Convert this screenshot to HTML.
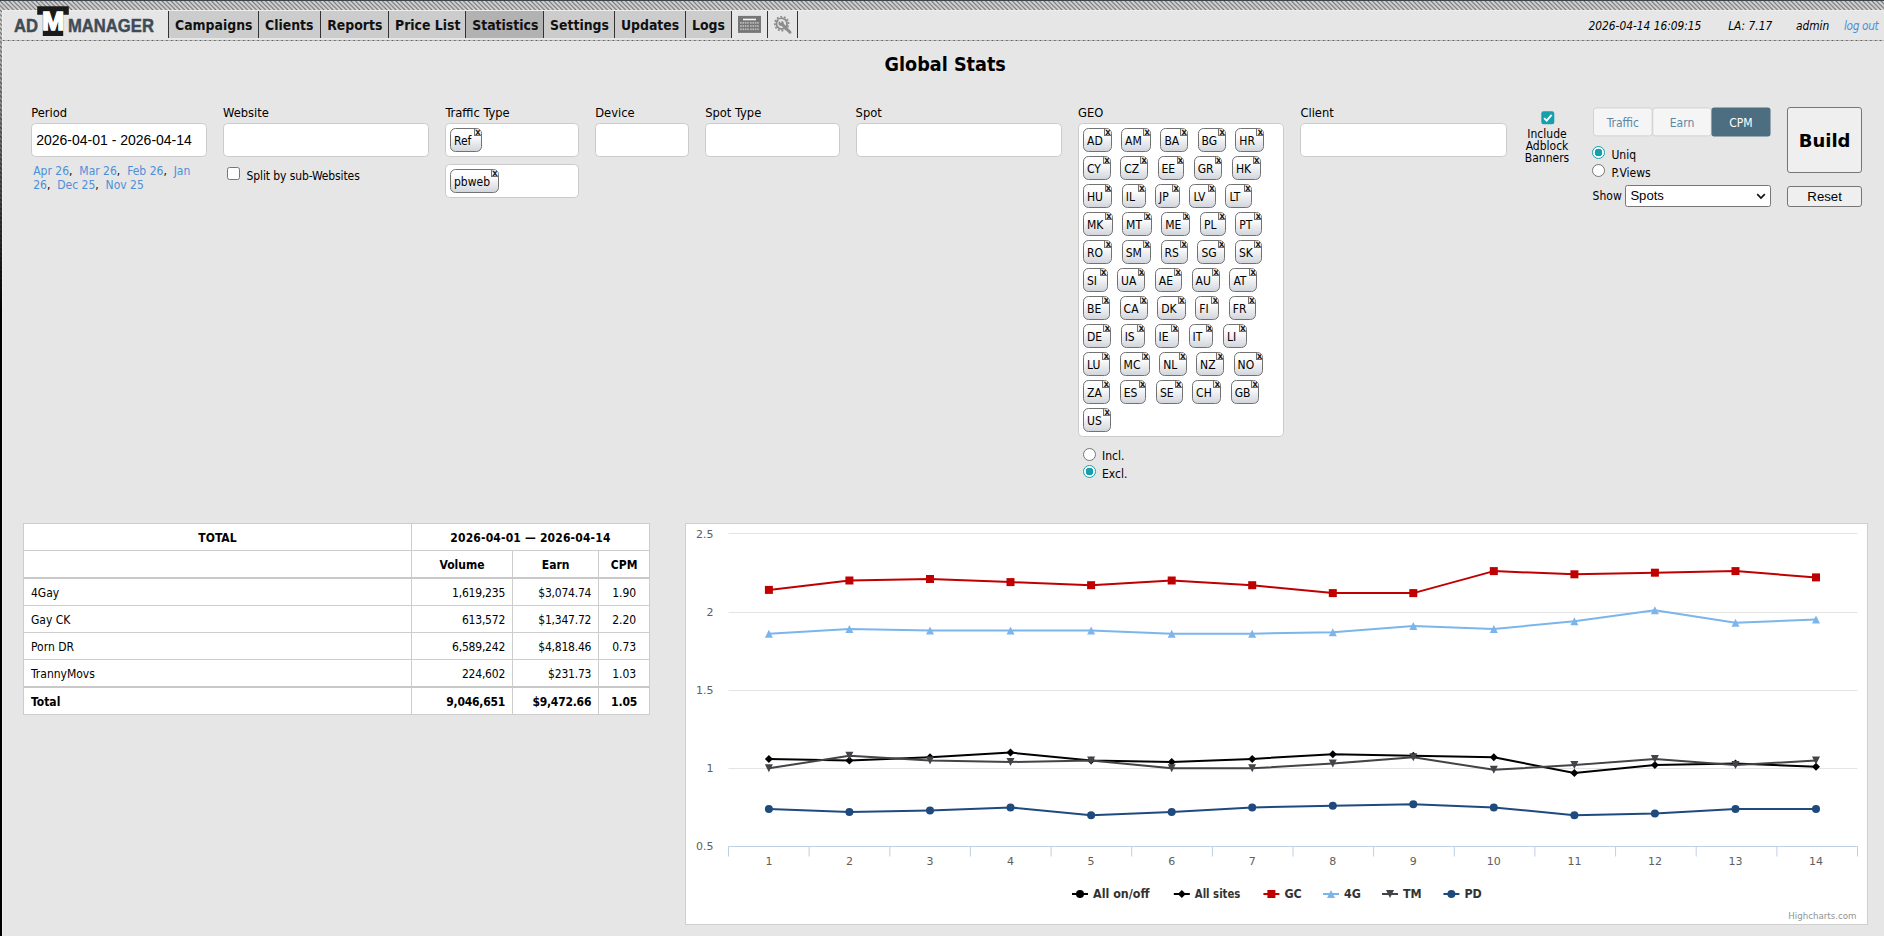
<!DOCTYPE html>
<html lang="en"><head><meta charset="utf-8"><title>Global Stats</title>
<style>
*{box-sizing:border-box;margin:0;padding:0}
html,body{width:1884px;height:936px;overflow:hidden;background:#e6e6e6}
body{position:relative;font-family:"DejaVu Sans Condensed","Liberation Sans",sans-serif;font-size:12px;color:#000;line-height:14px}
.abs{position:absolute;white-space:nowrap}
.arial{font-family:"Liberation Sans",sans-serif}
#topline{left:0;top:0;width:1884px;height:1px;background:#3b434d}
#hatch{left:0;top:1px;width:1884px;height:9px}
#lefthatch{left:0;top:10px;width:2px;height:926px}
#leftgrad{left:0;top:10px;width:2px;height:926px;background:linear-gradient(to bottom,rgba(0,0,0,0) 0px,rgba(0,0,0,.55) 150px,rgba(0,0,0,1) 300px)}
#leftlight{left:2px;top:10px;width:1px;height:926px;background:#efefef}
.logo{font-family:"Liberation Sans",sans-serif;font-weight:bold;font-size:17.7px;color:#3e4c58;line-height:20px;transform:scaleX(.94);transform-origin:0 0;-webkit-text-stroke:0.45px #3e4c58}
.nav{top:11px;height:27px;border-left:1px solid #333;background:#ccc;font-weight:bold;font-size:13.9px;line-height:28.6px;padding-left:5.8px;color:#111}
.nav.act{background:#b2b2b2}
.nav.ico{background:transparent}
.hdr{font-style:italic;font-size:11.8px;top:18.5px;line-height:14px}
a,.lnk{color:#4e8fd8;text-decoration:none}
h1{font-size:19.6px;font-weight:bold;line-height:24px}
.lbl{top:105.6px;line-height:14px;font-size:12.8px}
.inp{background:#fff;border:1px solid #cbcbcb;border-radius:4.5px}
.tag{position:absolute;height:24px;border:1px solid #727272;border-radius:5.5px;background:linear-gradient(to bottom,#ffffff 0%,#fbfbfc 35%,#d2d6dc 100%);padding-left:3px;line-height:24px;font-size:12px;white-space:nowrap;overflow:hidden}
.tag i{position:absolute;right:-1px;top:-1px;width:7.8px;height:7.9px;border:1px solid #727272;background:#f0f0f0;-webkit-text-stroke:0.35px #000;font-style:normal;font-weight:normal;font-size:9px;line-height:6px;text-align:center;color:#000;font-family:"DejaVu Sans",sans-serif;overflow:hidden;text-indent:0.2px}
.geo{position:absolute;left:1083px;height:23.5px;display:flex;gap:9.5px}
.geo .tag{position:relative;padding-right:8.6px}
.cb{width:13px;height:13px;border:1px solid #767676;border-radius:2.5px;background:#fff}
.rd{width:13px;height:13px;border:1px solid #767676;border-radius:50%;background:#fff}
.rd.on{border:1.3px solid #16a0ad;background:radial-gradient(circle,#16a0ad 0,#16a0ad 3.6px,#fff 4.1px)}
.seg{top:107px;height:29.4px;border:1px solid #d0d0d0;background:#f5f5f5;color:#5b88a6;text-align:center;line-height:29.4px;font-size:12px}
.btn{background:#efefef;border:1px solid #767676;border-radius:3px;text-align:center}
table{border-collapse:collapse;background:#fff;font-size:12px}
td,th{border:1px solid #cdcdcd;height:27.27px;padding:1.6px 7px 0;white-space:nowrap}
th{font-weight:bold;text-align:center}
td.r{text-align:right;letter-spacing:-0.22px}
td.c{text-align:center;letter-spacing:-0.1px}
tr.b td{font-weight:bold}
</style></head>
<body>
<div class="abs" id="topline"></div>
<svg class="abs" id="hatch" width="1884" height="9" viewBox="0 0 1884 9"><defs><pattern id="hp" width="4.5" height="4.5" patternUnits="userSpaceOnUse"><rect width="4.5" height="4.5" fill="#d4d4d4"/><path d="M-1,-1 L5.5,5.5 M-1,3.5 L1,5.5 M3.5,-1 L5.5,1" stroke="#626262" stroke-width="1.05"/></pattern></defs><rect width="1884" height="9" fill="url(#hp)"/></svg>
<svg class="abs" id="lefthatch" width="2" height="926" viewBox="0 0 2 926"><rect width="2" height="926" fill="url(#hp)"/></svg>
<div class="abs" id="leftgrad"></div><div class="abs" id="leftlight"></div><div class="abs" style="left:3px;top:10px;width:1881px;height:1px;background:#ededed"></div>
<svg class="abs" style="left:2px;top:40px" width="1882" height="1" viewBox="0 0 1882 1"><path d="M0,0.5 H1882" stroke="#b8b8b8" stroke-width="1"/><path d="M1,0.5 H1882" stroke="#5c5c5c" stroke-width="1" stroke-dasharray="1.4 3.4"/></svg>
<div class="abs logo" style="left:13.6px;top:16px">AD</div>
<div class="abs logo" style="left:68.4px;top:16px">MANAGER</div>
<svg class="abs" style="left:36px;top:5px" width="35" height="32" viewBox="36 5 35 32"><path d="M37.2,6.2 H68.8 V14.8 H63.2 V35.9 H42.8 V14.8 H37.2 Z" fill="#1a1a1a"/><text x="53" y="30.3" text-anchor="middle" font-family="Liberation Sans, sans-serif" font-weight="bold" font-size="26.6" fill="#fff" stroke="#fff" stroke-width="1.5" stroke-linejoin="miter">M</text></svg>
<div class="abs nav " style="left:168.2px;width:90.0px">Campaigns</div>
<div class="abs nav " style="left:258.2px;width:62.2px">Clients</div>
<div class="abs nav " style="left:320.4px;width:67.8px">Reports</div>
<div class="abs nav " style="left:388.2px;width:77.2px">Price List</div>
<div class="abs nav act" style="left:465.4px;width:77.8px">Statistics</div>
<div class="abs nav " style="left:543.2px;width:70.9px">Settings</div>
<div class="abs nav " style="left:614.1px;width:71.1px">Updates</div>
<div class="abs nav " style="left:685.2px;width:46.0px">Logs</div>
<div class="abs nav ico" style="left:731.2px;width:35.9px"></div>
<div class="abs nav ico" style="left:767.1px;width:30.0px"></div>
<div class="abs nav ico" style="left:797.1px;width:1.0px"></div>
<svg class="abs" style="left:737px;top:15px" width="25" height="19" viewBox="0 0 25 19"><g transform="translate(0.5,0.4)"><rect x="0.5" y="0.5" width="23" height="17" fill="#767676"/><rect x="5.5" y="3.3" width="13" height="1.6" fill="#f4f4f4"/><rect x="2.60" y="6.6" width="1.6" height="1.7" fill="#bdbdbd"/><rect x="4.95" y="6.6" width="1.6" height="1.7" fill="#bdbdbd"/><rect x="7.30" y="6.6" width="1.6" height="1.7" fill="#bdbdbd"/><rect x="9.65" y="6.6" width="1.6" height="1.7" fill="#bdbdbd"/><rect x="12.60" y="6.6" width="1.6" height="1.7" fill="#bdbdbd"/><rect x="14.95" y="6.6" width="1.6" height="1.7" fill="#bdbdbd"/><rect x="17.30" y="6.6" width="1.6" height="1.7" fill="#bdbdbd"/><rect x="19.65" y="6.6" width="1.6" height="1.7" fill="#bdbdbd"/><rect x="2.60" y="9.8" width="1.6" height="1.7" fill="#bdbdbd"/><rect x="4.95" y="9.8" width="1.6" height="1.7" fill="#bdbdbd"/><rect x="7.30" y="9.8" width="1.6" height="1.7" fill="#bdbdbd"/><rect x="9.65" y="9.8" width="1.6" height="1.7" fill="#bdbdbd"/><rect x="12.60" y="9.8" width="1.6" height="1.7" fill="#bdbdbd"/><rect x="14.95" y="9.8" width="1.6" height="1.7" fill="#bdbdbd"/><rect x="17.30" y="9.8" width="1.6" height="1.7" fill="#bdbdbd"/><rect x="19.65" y="9.8" width="1.6" height="1.7" fill="#bdbdbd"/><rect x="2.60" y="13.0" width="1.6" height="1.7" fill="#bdbdbd"/><rect x="4.95" y="13.0" width="1.6" height="1.7" fill="#bdbdbd"/><rect x="7.30" y="13.0" width="1.6" height="1.7" fill="#bdbdbd"/><rect x="9.65" y="13.0" width="1.6" height="1.7" fill="#bdbdbd"/><rect x="12.60" y="13.0" width="1.6" height="1.7" fill="#bdbdbd"/><rect x="14.95" y="13.0" width="1.6" height="1.7" fill="#bdbdbd"/><rect x="17.30" y="13.0" width="1.6" height="1.7" fill="#bdbdbd"/><rect x="19.65" y="13.0" width="1.6" height="1.7" fill="#bdbdbd"/></g></svg>
<svg class="abs" style="left:772px;top:14px" width="22" height="22" viewBox="0 0 22 22"><g fill="none" stroke="#8c8c8c"><circle cx="9.7" cy="9.7" r="5.3" stroke-width="1.9"/><circle cx="9.7" cy="9.7" r="6.9" stroke-width="1.7" stroke-dasharray="1.9 1.713" transform="rotate(-14 9.7 9.7)"/></g><path d="M10.2,10.4 L18.0,18.2" stroke="#8c8c8c" stroke-width="3" stroke-linecap="round"/><circle cx="9.1" cy="9.3" r="2.6" fill="#8c8c8c"/><path d="M9.1,9.3 L6.2,5.6 L10.2,5.0 Z" fill="#e6e6e6"/></svg>
<div class="abs hdr" style="left:1588.6px">2026-04-14 16:09:15</div>
<div class="abs hdr" style="left:1728.2px">LA: 7.17</div>
<div class="abs hdr" style="left:1796px">admin</div>
<div class="abs hdr lnk" style="left:1844px;letter-spacing:-0.36px">log out</div>
<h1 class="abs" style="left:884.6px;top:52.6px">Global Stats</h1>
<div class="abs lbl" style="left:31.2px">Period</div>
<div class="abs lbl" style="left:223px">Website</div>
<div class="abs lbl" style="left:445.4px">Traffic Type</div>
<div class="abs lbl" style="left:595.2px">Device</div>
<div class="abs lbl" style="left:705.2px">Spot Type</div>
<div class="abs lbl" style="left:855.6px">Spot</div>
<div class="abs lbl" style="left:1078px">GEO</div>
<div class="abs lbl" style="left:1300.4px">Client</div>
<div class="abs inp" style="left:31px;top:123px;width:176px;height:34px"></div>
<div class="abs inp" style="left:223px;top:123px;width:206px;height:34px"></div>
<div class="abs inp" style="left:445px;top:123px;width:134px;height:34px"></div>
<div class="abs inp" style="left:595px;top:123px;width:94px;height:34px"></div>
<div class="abs inp" style="left:705px;top:123px;width:135px;height:34px"></div>
<div class="abs inp" style="left:856px;top:123px;width:206px;height:34px"></div>
<div class="abs inp" style="left:1300px;top:123px;width:207px;height:34px"></div>
<div class="abs inp" style="left:445px;top:164px;width:134px;height:34px"></div>
<div class="abs arial" style="left:36.2px;top:131.6px;font-size:14px;line-height:16px">2026-04-01 - 2026-04-14</div>
<div class="abs" style="left:33.2px;top:163.6px;width:172px;white-space:normal;line-height:14px;word-spacing:0"><span class="lnk">Apr 26</span>,&nbsp; <span class="lnk">Mar 26</span>,&nbsp; <span class="lnk">Feb 26</span>,&nbsp; <span class="lnk">Jan 26</span>,&nbsp; <span class="lnk">Dec 25</span>,&nbsp; <span class="lnk">Nov 25</span></div>
<div class="abs cb" style="left:227.2px;top:167px"></div>
<div class="abs" style="left:246.6px;top:169px;letter-spacing:-0.11px">Split by sub-Websites</div>
<div class="tag" style="left:450px;top:128px;width:31.8px">Ref<i>x</i></div>
<div class="tag" style="left:450px;top:169px;width:48.7px">pbweb<i>x</i></div>
<div class="abs inp" style="left:1078px;top:123px;width:206px;height:314px"></div>
<div class="tag" style="left:1083.0px;top:128.0px;width:28.6px">AD<i>x</i></div>
<div class="tag" style="left:1121.1px;top:128.0px;width:29.8px">AM<i>x</i></div>
<div class="tag" style="left:1160.4px;top:128.0px;width:27.6px">BA<i>x</i></div>
<div class="tag" style="left:1197.5px;top:128.0px;width:28.4px">BG<i>x</i></div>
<div class="tag" style="left:1235.3px;top:128.0px;width:28.9px">HR<i>x</i></div>
<div class="tag" style="left:1083.0px;top:156.0px;width:27.8px">CY<i>x</i></div>
<div class="tag" style="left:1120.3px;top:156.0px;width:27.6px">CZ<i>x</i></div>
<div class="tag" style="left:1157.5px;top:156.0px;width:26.8px">EE<i>x</i></div>
<div class="tag" style="left:1193.7px;top:156.0px;width:28.8px">GR<i>x</i></div>
<div class="tag" style="left:1232.0px;top:156.0px;width:28.5px">HK<i>x</i></div>
<div class="tag" style="left:1083.0px;top:184.0px;width:29.3px">HU<i>x</i></div>
<div class="tag" style="left:1121.8px;top:184.0px;width:23.8px">IL<i>x</i></div>
<div class="tag" style="left:1155.0px;top:184.0px;width:24.9px">JP<i>x</i></div>
<div class="tag" style="left:1189.4px;top:184.0px;width:26.4px">LV<i>x</i></div>
<div class="tag" style="left:1225.4px;top:184.0px;width:26.3px">LT<i>x</i></div>
<div class="tag" style="left:1083.0px;top:212.0px;width:29.6px">MK<i>x</i></div>
<div class="tag" style="left:1122.1px;top:212.0px;width:29.6px">MT<i>x</i></div>
<div class="tag" style="left:1161.2px;top:212.0px;width:29.3px">ME<i>x</i></div>
<div class="tag" style="left:1200.0px;top:212.0px;width:25.9px">PL<i>x</i></div>
<div class="tag" style="left:1235.3px;top:212.0px;width:26.9px">PT<i>x</i></div>
<div class="tag" style="left:1083.0px;top:240.0px;width:29.2px">RO<i>x</i></div>
<div class="tag" style="left:1121.7px;top:240.0px;width:29.2px">SM<i>x</i></div>
<div class="tag" style="left:1160.5px;top:240.0px;width:27.4px">RS<i>x</i></div>
<div class="tag" style="left:1197.4px;top:240.0px;width:28.0px">SG<i>x</i></div>
<div class="tag" style="left:1234.9px;top:240.0px;width:27.0px">SK<i>x</i></div>
<div class="tag" style="left:1083.0px;top:268.0px;width:24.5px">SI<i>x</i></div>
<div class="tag" style="left:1117.0px;top:268.0px;width:28.4px">UA<i>x</i></div>
<div class="tag" style="left:1154.8px;top:268.0px;width:27.2px">AE<i>x</i></div>
<div class="tag" style="left:1191.6px;top:268.0px;width:28.4px">AU<i>x</i></div>
<div class="tag" style="left:1229.4px;top:268.0px;width:27.5px">AT<i>x</i></div>
<div class="tag" style="left:1083.0px;top:296.0px;width:27.1px">BE<i>x</i></div>
<div class="tag" style="left:1119.6px;top:296.0px;width:28.1px">CA<i>x</i></div>
<div class="tag" style="left:1157.2px;top:296.0px;width:28.5px">DK<i>x</i></div>
<div class="tag" style="left:1195.2px;top:296.0px;width:24.0px">FI<i>x</i></div>
<div class="tag" style="left:1228.7px;top:296.0px;width:27.0px">FR<i>x</i></div>
<div class="tag" style="left:1083.0px;top:324.0px;width:28.2px">DE<i>x</i></div>
<div class="tag" style="left:1120.7px;top:324.0px;width:24.5px">IS<i>x</i></div>
<div class="tag" style="left:1154.6px;top:324.0px;width:24.5px">IE<i>x</i></div>
<div class="tag" style="left:1188.6px;top:324.0px;width:24.8px">IT<i>x</i></div>
<div class="tag" style="left:1222.9px;top:324.0px;width:23.8px">LI<i>x</i></div>
<div class="tag" style="left:1083.0px;top:352.0px;width:27.1px">LU<i>x</i></div>
<div class="tag" style="left:1119.6px;top:352.0px;width:30.2px">MC<i>x</i></div>
<div class="tag" style="left:1159.3px;top:352.0px;width:27.3px">NL<i>x</i></div>
<div class="tag" style="left:1196.1px;top:352.0px;width:28.0px">NZ<i>x</i></div>
<div class="tag" style="left:1233.6px;top:352.0px;width:29.8px">NO<i>x</i></div>
<div class="tag" style="left:1083.0px;top:380.0px;width:27.2px">ZA<i>x</i></div>
<div class="tag" style="left:1119.7px;top:380.0px;width:26.7px">ES<i>x</i></div>
<div class="tag" style="left:1155.9px;top:380.0px;width:26.7px">SE<i>x</i></div>
<div class="tag" style="left:1192.1px;top:380.0px;width:29.0px">CH<i>x</i></div>
<div class="tag" style="left:1230.7px;top:380.0px;width:28.4px">GB<i>x</i></div>
<div class="tag" style="left:1083.0px;top:408.0px;width:27.9px">US<i>x</i></div>
<div class="abs rd" style="left:1083px;top:447.6px"></div><div class="abs" style="left:1102px;top:448.6px">Incl.</div>
<div class="abs rd on" style="left:1083px;top:465.4px"></div><div class="abs" style="left:1102px;top:466.6px">Excl.</div>
<svg class="abs" style="left:1540.6px;top:110.6px" width="14" height="14" viewBox="0 0 14 14"><rect x="0.3" y="0.3" width="13" height="13" rx="2.2" fill="#16a0ad"/><path d="M3.1,7.1 L5.7,9.7 L10.6,3.9" fill="none" stroke="#fff" stroke-width="1.9"/></svg>
<div class="abs" style="left:1517px;top:127.6px;width:60px;text-align:center;white-space:normal;line-height:12px">Include Adblock Banners</div>
<svg class="abs" style="left:1592px;top:106px" width="180" height="32" viewBox="1592 106 180 32" font-family="DejaVu Sans Condensed, Liberation Sans, sans-serif" font-size="12" text-anchor="middle"><rect x="1593.5" y="107.9" width="58.6" height="28" rx="2.6" fill="#f5f5f5" stroke="#d2d2d2"/><text x="1622.8" y="126.6" fill="#5b88a6">Traffic</text><rect x="1652.8" y="107.9" width="58.5" height="28" rx="2.6" fill="#f5f5f5" stroke="#d2d2d2"/><text x="1682.0" y="126.6" fill="#5b88a6">Earn</text><rect x="1711.5" y="107.4" width="59.0" height="29" rx="2.6" fill="#4d6d80"/><text x="1741.0" y="126.6" fill="#fff">CPM</text></svg>
<div class="abs rd on" style="left:1592px;top:146.4px"></div><div class="abs" style="left:1611.4px;top:148.2px">Uniq</div>
<div class="abs rd" style="left:1592px;top:164px"></div><div class="abs" style="left:1611.4px;top:166.2px">P.Views</div>
<div class="abs" style="left:1592.6px;top:189.2px">Show</div>
<div class="abs arial" style="left:1625.2px;top:185.2px;width:145.6px;height:21.4px;background:#fff;border:1px solid #767676;border-radius:2.5px;font-size:13.1px;line-height:19px;padding-left:4.2px">Spots<svg style="position:absolute;right:3.6px;top:6.4px" width="10" height="7" viewBox="0 0 10 7"><path d="M1.2,1.2 L5,5 L8.8,1.2" fill="none" stroke="#111" stroke-width="1.7"/></svg></div>
<div class="abs btn" style="left:1787.2px;top:107.2px;width:74.8px;height:65.4px;font-family:'DejaVu Sans',sans-serif;font-weight:bold;font-size:18px;line-height:66.6px">Build</div>
<div class="abs btn arial" style="left:1787.2px;top:186.4px;width:74.8px;height:20.4px;font-size:13.2px;line-height:19px">Reset</div>
<table class="abs" style="left:23px;top:523px;width:627px"><colgroup><col style="width:388.8px"><col style="width:101.2px"><col style="width:86.2px"><col style="width:50.8px"></colgroup><tr><th>TOTAL</th><th colspan="3" style="letter-spacing:0.17px">2026-04-01 — 2026-04-14</th></tr><tr style="border-bottom:2px solid #c9c9c9"><th></th><th>Volume</th><th>Earn</th><th>CPM</th></tr><tr><td>4Gay</td><td class="r">1,619,235</td><td class="r">$3,074.74</td><td class="c">1.90</td></tr><tr><td>Gay CK</td><td class="r">613,572</td><td class="r">$1,347.72</td><td class="c">2.20</td></tr><tr><td>Porn DR</td><td class="r">6,589,242</td><td class="r">$4,818.46</td><td class="c">0.73</td></tr><tr><td>TrannyMovs</td><td class="r">224,602</td><td class="r">$231.73</td><td class="c">1.03</td></tr><tr class="b" style="border-top:2px solid #c9c9c9"><td>Total</td><td class="r">9,046,651</td><td class="r">$9,472.66</td><td class="c">1.05</td></tr></table>
<svg class="abs" style="left:685px;top:523px" width="1183" height="402" viewBox="0 0 1183 402" font-family="DejaVu Sans, sans-serif"><rect x="0.5" y="0.5" width="1182" height="401" fill="#fff" stroke="#cfcfcf"/><path d="M43.5,10.5 H1172.5" stroke="#e4e4e4" stroke-width="1"/><path d="M43.5,89.5 H1172.5" stroke="#e4e4e4" stroke-width="1"/><path d="M43.5,167.5 H1172.5" stroke="#e4e4e4" stroke-width="1"/><path d="M43.5,245.5 H1172.5" stroke="#e4e4e4" stroke-width="1"/><path d="M43.5,323.5 H1172.5" stroke="#c0d0e0" stroke-width="1"/><path d="M43.5,323.5 V333.5" stroke="#c0d0e0" stroke-width="1"/><path d="M124.1,323.5 V333.5" stroke="#c0d0e0" stroke-width="1"/><path d="M204.8,323.5 V333.5" stroke="#c0d0e0" stroke-width="1"/><path d="M285.4,323.5 V333.5" stroke="#c0d0e0" stroke-width="1"/><path d="M366.1,323.5 V333.5" stroke="#c0d0e0" stroke-width="1"/><path d="M446.7,323.5 V333.5" stroke="#c0d0e0" stroke-width="1"/><path d="M527.4,323.5 V333.5" stroke="#c0d0e0" stroke-width="1"/><path d="M608.0,323.5 V333.5" stroke="#c0d0e0" stroke-width="1"/><path d="M688.6,323.5 V333.5" stroke="#c0d0e0" stroke-width="1"/><path d="M769.3,323.5 V333.5" stroke="#c0d0e0" stroke-width="1"/><path d="M849.9,323.5 V333.5" stroke="#c0d0e0" stroke-width="1"/><path d="M930.6,323.5 V333.5" stroke="#c0d0e0" stroke-width="1"/><path d="M1011.2,323.5 V333.5" stroke="#c0d0e0" stroke-width="1"/><path d="M1091.9,323.5 V333.5" stroke="#c0d0e0" stroke-width="1"/><path d="M1172.5,323.5 V333.5" stroke="#c0d0e0" stroke-width="1"/><text x="28.399999999999977" y="14.8" text-anchor="end" font-size="11" fill="#606060">2.5</text><text x="28.399999999999977" y="92.8" text-anchor="end" font-size="11" fill="#606060">2</text><text x="28.399999999999977" y="170.8" text-anchor="end" font-size="11" fill="#606060">1.5</text><text x="28.399999999999977" y="248.8" text-anchor="end" font-size="11" fill="#606060">1</text><text x="28.399999999999977" y="326.8" text-anchor="end" font-size="11" fill="#606060">0.5</text><text x="83.9" y="341.79999999999995" text-anchor="middle" font-size="11" fill="#606060">1</text><text x="164.4" y="341.79999999999995" text-anchor="middle" font-size="11" fill="#606060">2</text><text x="245.0" y="341.79999999999995" text-anchor="middle" font-size="11" fill="#606060">3</text><text x="325.5" y="341.79999999999995" text-anchor="middle" font-size="11" fill="#606060">4</text><text x="406.1" y="341.79999999999995" text-anchor="middle" font-size="11" fill="#606060">5</text><text x="486.7" y="341.79999999999995" text-anchor="middle" font-size="11" fill="#606060">6</text><text x="567.2" y="341.79999999999995" text-anchor="middle" font-size="11" fill="#606060">7</text><text x="647.8" y="341.79999999999995" text-anchor="middle" font-size="11" fill="#606060">8</text><text x="728.3" y="341.79999999999995" text-anchor="middle" font-size="11" fill="#606060">9</text><text x="808.8" y="341.79999999999995" text-anchor="middle" font-size="11" fill="#606060">10</text><text x="889.4" y="341.79999999999995" text-anchor="middle" font-size="11" fill="#606060">11</text><text x="969.9" y="341.79999999999995" text-anchor="middle" font-size="11" fill="#606060">12</text><text x="1050.5" y="341.79999999999995" text-anchor="middle" font-size="11" fill="#606060">13</text><text x="1131.0" y="341.79999999999995" text-anchor="middle" font-size="11" fill="#606060">14</text><polyline points="83.9,235.9 164.4,237.5 245.0,234.3 325.5,229.6 406.1,237.5 486.7,239.0 567.2,235.9 647.8,231.2 728.3,232.8 808.8,234.3 889.4,250.0 969.9,242.1 1050.5,240.6 1131.0,243.7" fill="none" stroke="#000000" stroke-width="2" stroke-linejoin="round" stroke-linecap="round"/><path d="M83.9,231.9 L87.9,235.9 L83.9,239.9 L79.9,235.9 Z" fill="#000000"/><path d="M164.4,233.5 L168.4,237.5 L164.4,241.5 L160.4,237.5 Z" fill="#000000"/><path d="M245.0,230.3 L249.0,234.3 L245.0,238.3 L241.0,234.3 Z" fill="#000000"/><path d="M325.5,225.6 L329.5,229.6 L325.5,233.6 L321.5,229.6 Z" fill="#000000"/><path d="M406.1,233.5 L410.1,237.5 L406.1,241.5 L402.1,237.5 Z" fill="#000000"/><path d="M486.7,235.0 L490.7,239.0 L486.7,243.0 L482.7,239.0 Z" fill="#000000"/><path d="M567.2,231.9 L571.2,235.9 L567.2,239.9 L563.2,235.9 Z" fill="#000000"/><path d="M647.8,227.2 L651.8,231.2 L647.8,235.2 L643.8,231.2 Z" fill="#000000"/><path d="M728.3,228.8 L732.3,232.8 L728.3,236.8 L724.3,232.8 Z" fill="#000000"/><path d="M808.8,230.3 L812.8,234.3 L808.8,238.3 L804.8,234.3 Z" fill="#000000"/><path d="M889.4,246.0 L893.4,250.0 L889.4,254.0 L885.4,250.0 Z" fill="#000000"/><path d="M969.9,238.1 L973.9,242.1 L969.9,246.1 L965.9,242.1 Z" fill="#000000"/><path d="M1050.5,236.6 L1054.5,240.6 L1050.5,244.6 L1046.5,240.6 Z" fill="#000000"/><path d="M1131.0,239.7 L1135.0,243.7 L1131.0,247.7 L1127.0,243.7 Z" fill="#000000"/><polyline points="83.9,66.9 164.4,57.5 245.0,56.0 325.5,59.1 406.1,62.2 486.7,57.5 567.2,62.2 647.8,70.1 728.3,70.1 808.8,48.1 889.4,51.3 969.9,49.7 1050.5,48.1 1131.0,54.4" fill="none" stroke="#c00000" stroke-width="2" stroke-linejoin="round" stroke-linecap="round"/><rect x="79.9" y="62.9" width="8" height="8" fill="#c00000"/><rect x="160.4" y="53.5" width="8" height="8" fill="#c00000"/><rect x="241.0" y="52.0" width="8" height="8" fill="#c00000"/><rect x="321.5" y="55.1" width="8" height="8" fill="#c00000"/><rect x="402.1" y="58.2" width="8" height="8" fill="#c00000"/><rect x="482.7" y="53.5" width="8" height="8" fill="#c00000"/><rect x="563.2" y="58.2" width="8" height="8" fill="#c00000"/><rect x="643.8" y="66.1" width="8" height="8" fill="#c00000"/><rect x="724.3" y="66.1" width="8" height="8" fill="#c00000"/><rect x="804.8" y="44.1" width="8" height="8" fill="#c00000"/><rect x="885.4" y="47.3" width="8" height="8" fill="#c00000"/><rect x="965.9" y="45.7" width="8" height="8" fill="#c00000"/><rect x="1046.5" y="44.1" width="8" height="8" fill="#c00000"/><rect x="1127.0" y="50.4" width="8" height="8" fill="#c00000"/><polyline points="83.9,110.7 164.4,106.0 245.0,107.6 325.5,107.6 406.1,107.6 486.7,110.7 567.2,110.7 647.8,109.2 728.3,102.9 808.8,106.0 889.4,98.2 969.9,87.3 1050.5,99.8 1131.0,96.6" fill="none" stroke="#7cb5ec" stroke-width="2" stroke-linejoin="round" stroke-linecap="round"/><path d="M83.9,106.7 L87.9,114.7 L79.9,114.7 Z" fill="#7cb5ec"/><path d="M164.4,102.0 L168.4,110.0 L160.4,110.0 Z" fill="#7cb5ec"/><path d="M245.0,103.6 L249.0,111.6 L241.0,111.6 Z" fill="#7cb5ec"/><path d="M325.5,103.6 L329.5,111.6 L321.5,111.6 Z" fill="#7cb5ec"/><path d="M406.1,103.6 L410.1,111.6 L402.1,111.6 Z" fill="#7cb5ec"/><path d="M486.7,106.7 L490.7,114.7 L482.7,114.7 Z" fill="#7cb5ec"/><path d="M567.2,106.7 L571.2,114.7 L563.2,114.7 Z" fill="#7cb5ec"/><path d="M647.8,105.2 L651.8,113.2 L643.8,113.2 Z" fill="#7cb5ec"/><path d="M728.3,98.9 L732.3,106.9 L724.3,106.9 Z" fill="#7cb5ec"/><path d="M808.8,102.0 L812.8,110.0 L804.8,110.0 Z" fill="#7cb5ec"/><path d="M889.4,94.2 L893.4,102.2 L885.4,102.2 Z" fill="#7cb5ec"/><path d="M969.9,83.3 L973.9,91.3 L965.9,91.3 Z" fill="#7cb5ec"/><path d="M1050.5,95.8 L1054.5,103.8 L1046.5,103.8 Z" fill="#7cb5ec"/><path d="M1131.0,92.6 L1135.0,100.6 L1127.0,100.6 Z" fill="#7cb5ec"/><polyline points="83.9,245.3 164.4,232.8 245.0,237.5 325.5,239.0 406.1,237.5 486.7,245.3 567.2,245.3 647.8,240.6 728.3,234.3 808.8,246.8 889.4,242.1 969.9,235.9 1050.5,242.1 1131.0,237.5" fill="none" stroke="#434348" stroke-width="2" stroke-linejoin="round" stroke-linecap="round"/><path d="M79.9,241.3 L87.9,241.3 L83.9,249.3 Z" fill="#434348"/><path d="M160.4,228.8 L168.4,228.8 L164.4,236.8 Z" fill="#434348"/><path d="M241.0,233.5 L249.0,233.5 L245.0,241.5 Z" fill="#434348"/><path d="M321.5,235.0 L329.5,235.0 L325.5,243.0 Z" fill="#434348"/><path d="M402.1,233.5 L410.1,233.5 L406.1,241.5 Z" fill="#434348"/><path d="M482.7,241.3 L490.7,241.3 L486.7,249.3 Z" fill="#434348"/><path d="M563.2,241.3 L571.2,241.3 L567.2,249.3 Z" fill="#434348"/><path d="M643.8,236.6 L651.8,236.6 L647.8,244.6 Z" fill="#434348"/><path d="M724.3,230.3 L732.3,230.3 L728.3,238.3 Z" fill="#434348"/><path d="M804.8,242.8 L812.8,242.8 L808.8,250.8 Z" fill="#434348"/><path d="M885.4,238.1 L893.4,238.1 L889.4,246.1 Z" fill="#434348"/><path d="M965.9,231.9 L973.9,231.9 L969.9,239.9 Z" fill="#434348"/><path d="M1046.5,238.1 L1054.5,238.1 L1050.5,246.1 Z" fill="#434348"/><path d="M1127.0,233.5 L1135.0,233.5 L1131.0,241.5 Z" fill="#434348"/><polyline points="83.9,286.0 164.4,289.1 245.0,287.5 325.5,284.4 406.1,292.2 486.7,289.1 567.2,284.4 647.8,282.8 728.3,281.3 808.8,284.4 889.4,292.2 969.9,290.6 1050.5,286.0 1131.0,286.0" fill="none" stroke="#1f4a7d" stroke-width="2" stroke-linejoin="round" stroke-linecap="round"/><circle cx="83.9" cy="286.0" r="4" fill="#1f4a7d"/><circle cx="164.4" cy="289.1" r="4" fill="#1f4a7d"/><circle cx="245.0" cy="287.5" r="4" fill="#1f4a7d"/><circle cx="325.5" cy="284.4" r="4" fill="#1f4a7d"/><circle cx="406.1" cy="292.2" r="4" fill="#1f4a7d"/><circle cx="486.7" cy="289.1" r="4" fill="#1f4a7d"/><circle cx="567.2" cy="284.4" r="4" fill="#1f4a7d"/><circle cx="647.8" cy="282.8" r="4" fill="#1f4a7d"/><circle cx="728.3" cy="281.3" r="4" fill="#1f4a7d"/><circle cx="808.8" cy="284.4" r="4" fill="#1f4a7d"/><circle cx="889.4" cy="292.2" r="4" fill="#1f4a7d"/><circle cx="969.9" cy="290.6" r="4" fill="#1f4a7d"/><circle cx="1050.5" cy="286.0" r="4" fill="#1f4a7d"/><circle cx="1131.0" cy="286.0" r="4" fill="#1f4a7d"/><path d="M387.0,371 h16" stroke="#000000" stroke-width="2"/><circle cx="395.0" cy="371.0" r="4" fill="#000000"/><text x="408.0" y="375.2" font-family="DejaVu Sans Condensed, Liberation Sans, sans-serif" font-weight="bold" font-size="12.4" fill="#333">All on/off</text><path d="M488.8,371 h16" stroke="#000000" stroke-width="2"/><path d="M496.8,367.0 L500.8,371.0 L496.8,375.0 L492.8,371.0 Z" fill="#000000"/><text x="509.8" y="375.2" font-family="DejaVu Sans Condensed, Liberation Sans, sans-serif" font-weight="bold" font-size="12.4" fill="#333" textLength="45.6" lengthAdjust="spacingAndGlyphs">All sites</text><path d="M578.4,371 h16" stroke="#c00000" stroke-width="2"/><rect x="582.4" y="367.0" width="8" height="8" fill="#c00000"/><text x="599.4" y="375.2" font-family="DejaVu Sans Condensed, Liberation Sans, sans-serif" font-weight="bold" font-size="12.4" fill="#333">GC</text><path d="M638.0,371 h16" stroke="#7cb5ec" stroke-width="2"/><path d="M646.0,367.0 L650.0,375.0 L642.0,375.0 Z" fill="#7cb5ec"/><text x="659.0" y="375.2" font-family="DejaVu Sans Condensed, Liberation Sans, sans-serif" font-weight="bold" font-size="12.4" fill="#333">4G</text><path d="M697.0,371 h16" stroke="#434348" stroke-width="2"/><path d="M701.0,367.0 L709.0,367.0 L705.0,375.0 Z" fill="#434348"/><text x="718.0" y="375.2" font-family="DejaVu Sans Condensed, Liberation Sans, sans-serif" font-weight="bold" font-size="12.4" fill="#333">TM</text><path d="M758.4,371 h16" stroke="#1f4a7d" stroke-width="2"/><circle cx="766.4" cy="371.0" r="4" fill="#1f4a7d"/><text x="779.4" y="375.2" font-family="DejaVu Sans Condensed, Liberation Sans, sans-serif" font-weight="bold" font-size="12.4" fill="#333">PD</text><text x="1171.6" y="396.20000000000005" text-anchor="end" font-size="8.7" fill="#939393">Highcharts.com</text></svg>
</body></html>
